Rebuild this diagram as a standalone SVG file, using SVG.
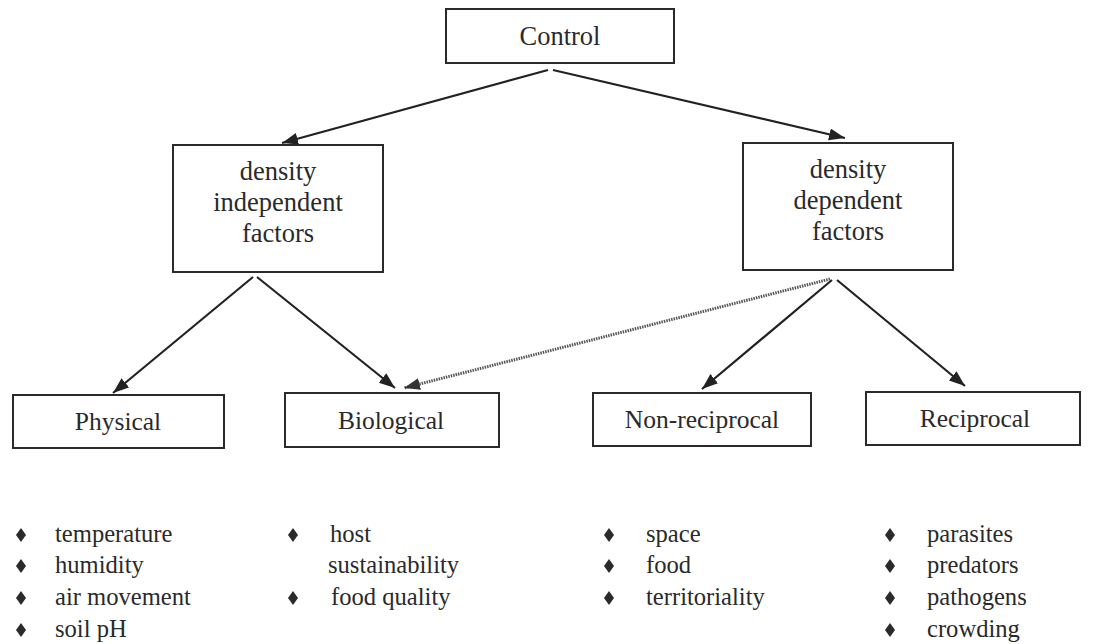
<svg xmlns="http://www.w3.org/2000/svg" width="1097" height="644" viewBox="0 0 1097 644">
<defs>
<style>
.box{fill:#fff;stroke:#2a2a2a;stroke-width:2}
.t{font-size:24.6px;fill:#2a2a2a}
.m{font-size:26.5px}
.s{font-size:25.5px}
.c{text-anchor:middle}
.ln{stroke:#222;stroke-width:2.2;fill:none}
.dot{stroke:#555;stroke-width:3;stroke-dasharray:1.5 1;fill:none}
.b{fill:#2a2a2a}
</style>
<marker id="ah" markerUnits="userSpaceOnUse" markerWidth="18" markerHeight="14" refX="16" refY="6" orient="auto">
<path d="M0,0 L16,6 L0,12 z" fill="#222"/>
</marker>
<marker id="ahg" markerUnits="userSpaceOnUse" markerWidth="18" markerHeight="14" refX="16" refY="6" orient="auto">
<path d="M0,0 L16,6 L0,12 z" fill="#333"/>
</marker>
<polygon id="dia" points="0,-7 5,0 0,7 -5,0"/>
</defs>
<rect width="1097" height="644" fill="#fff"/>
<g id="connectors">
<line class="ln" x1="548" y1="70" x2="282" y2="143" marker-end="url(#ah)"/>
<line class="ln" x1="553" y1="70" x2="845" y2="138" marker-end="url(#ah)"/>
<line class="ln" x1="253" y1="277" x2="113" y2="393" marker-end="url(#ah)"/>
<line class="ln" x1="257" y1="277" x2="395" y2="388" marker-end="url(#ah)"/>
<line class="ln" x1="832" y1="280" x2="702" y2="389" marker-end="url(#ah)"/>
<line class="ln" x1="837" y1="280" x2="965" y2="386" marker-end="url(#ah)"/>
<line class="dot" x1="830" y1="279" x2="404" y2="388" marker-end="url(#ahg)"/>
</g>
<g font-family="'Liberation Serif', 'DejaVu Serif', serif">
<g id="control">
<rect class="box" x="446" y="9" width="228" height="54"/>
<text class="t c m" x="560" y="45">Control</text>
</g>
<g id="density-independent">
<rect class="box" x="173" y="145" width="210" height="127"/>
<text class="t c m" x="278" y="180">density</text>
<text class="t c m" x="278" y="211">independent</text>
<text class="t c m" x="278" y="242">factors</text>
</g>
<g id="density-dependent">
<rect class="box" x="743" y="143" width="210" height="127"/>
<text class="t c m" x="848" y="178">density</text>
<text class="t c m" x="848" y="209">dependent</text>
<text class="t c m" x="848" y="240">factors</text>
</g>
<g id="physical">
<rect class="box" x="13" y="395" width="211" height="53"/>
<text class="t c s" x="118" y="430">Physical</text>
</g>
<g id="biological">
<rect class="box" x="285" y="393" width="214" height="54"/>
<text class="t c s" x="391" y="429">Biological</text>
</g>
<g id="non-reciprocal">
<rect class="box" x="593" y="393" width="218" height="53"/>
<text class="t c s" x="702" y="428">Non-reciprocal</text>
</g>
<g id="reciprocal">
<rect class="box" x="866" y="392" width="214" height="53"/>
<text class="t c s" x="975" y="427">Reciprocal</text>
</g>
<g id="list-physical">
<use href="#dia" class="b" x="21" y="535"/>
<use href="#dia" class="b" x="21" y="566"/>
<use href="#dia" class="b" x="21" y="598"/>
<use href="#dia" class="b" x="21" y="630"/>
<text class="t" x="55" y="542">temperature</text>
<text class="t" x="55" y="573">humidity</text>
<text class="t" x="55" y="605">air movement</text>
<text class="t" x="55" y="637">soil pH</text>
</g>
<g id="list-biological">
<use href="#dia" class="b" x="293" y="535"/>
<use href="#dia" class="b" x="293" y="598"/>
<text class="t" x="330" y="542">host</text>
<text class="t" x="328" y="573">sustainability</text>
<text class="t" x="331" y="605">food quality</text>
</g>
<g id="list-nonreciprocal">
<use href="#dia" class="b" x="609" y="535"/>
<use href="#dia" class="b" x="609" y="566"/>
<use href="#dia" class="b" x="609" y="598"/>
<text class="t" x="646" y="542">space</text>
<text class="t" x="646" y="573">food</text>
<text class="t" x="646" y="605">territoriality</text>
</g>
<g id="list-reciprocal">
<use href="#dia" class="b" x="890" y="535"/>
<use href="#dia" class="b" x="890" y="566"/>
<use href="#dia" class="b" x="890" y="598"/>
<use href="#dia" class="b" x="890" y="630"/>
<text class="t" x="927" y="542">parasites</text>
<text class="t" x="927" y="573">predators</text>
<text class="t" x="927" y="605">pathogens</text>
<text class="t" x="927" y="637">crowding</text>
</g>
</g>
</svg>
